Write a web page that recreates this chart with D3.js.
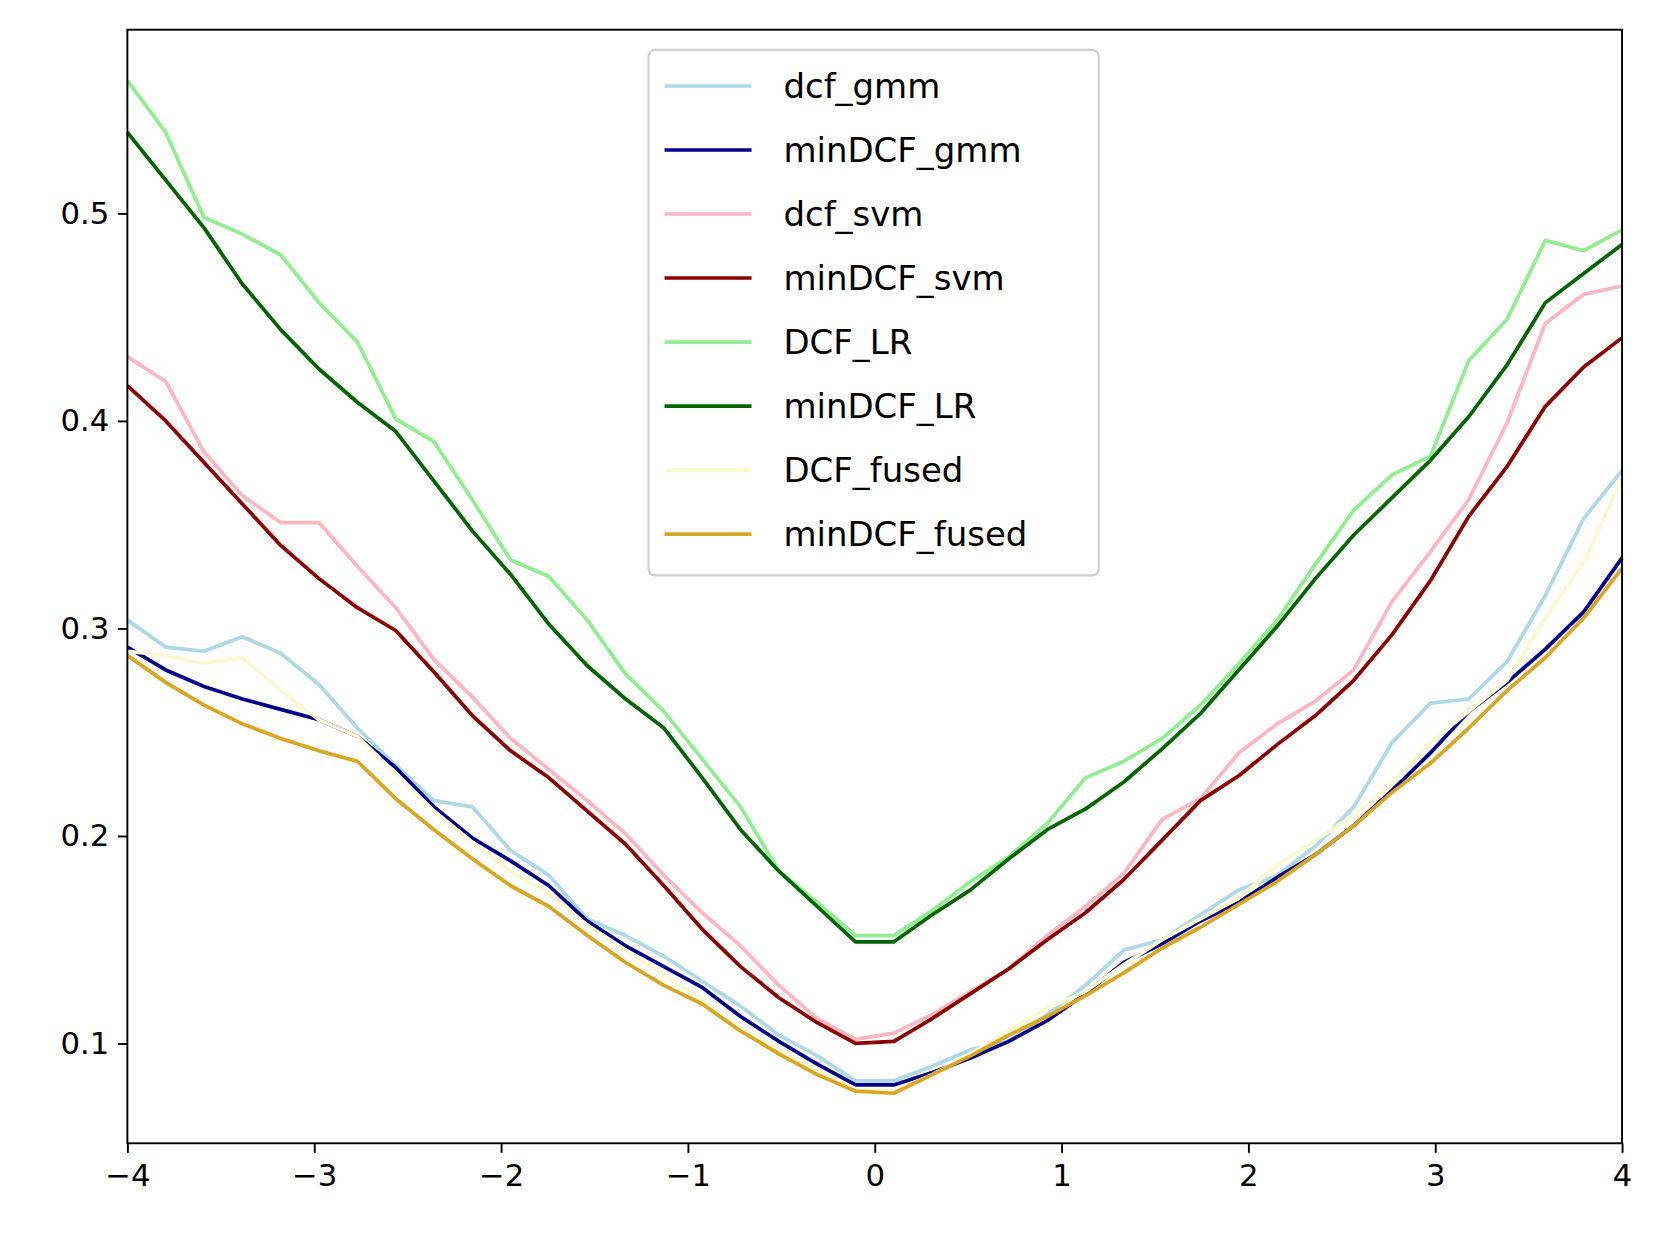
<!DOCTYPE html>
<html>
<head>
<meta charset="utf-8">
<script src="https://cdn.jsdelivr.net/npm/d3@7"></script>
<style>
  body { margin: 0; background: #fff; }
  text { font-family: "DejaVu Sans", sans-serif; }
</style>
</head>
<body>
<svg id="chart" width="1656" height="1239"></svg>
<script>
// 40 evenly spaced points from -4 to 4
var xValues = d3.range(40).map(i => -4 + i * 8 / 39);

var dcfGmm = [0.304,0.291,0.289,0.296,0.288,0.273,0.252,0.234,0.217,0.214,0.193,0.181,0.160,0.152,0.142,0.130,0.118,0.104,0.094,0.082,0.082,0.089,0.097,0.101,0.114,0.128,0.145,0.150,0.162,0.174,0.181,0.195,0.214,0.245,0.264,0.266,0.284,0.316,0.353,0.376];
var minDcfGmm = [0.291,0.280,0.272,0.266,0.261,0.256,0.248,0.233,0.214,0.199,0.188,0.176,0.159,0.147,0.137,0.127,0.113,0.101,0.090,0.080,0.080,0.086,0.093,0.101,0.111,0.124,0.139,0.148,0.159,0.168,0.180,0.191,0.205,0.222,0.240,0.260,0.274,0.290,0.308,0.334];
var dcfSvm = [0.431,0.419,0.385,0.364,0.351,0.351,0.330,0.310,0.285,0.267,0.247,0.232,0.217,0.201,0.181,0.163,0.147,0.128,0.112,0.102,0.105,0.114,0.125,0.136,0.152,0.166,0.182,0.208,0.218,0.240,0.254,0.265,0.280,0.313,0.337,0.362,0.399,0.447,0.461,0.465];
var minDcfSvm = [0.417,0.400,0.380,0.360,0.340,0.324,0.310,0.299,0.279,0.258,0.241,0.228,0.212,0.196,0.176,0.155,0.137,0.122,0.110,0.100,0.101,0.112,0.124,0.136,0.150,0.163,0.179,0.198,0.217,0.229,0.244,0.258,0.275,0.297,0.323,0.354,0.378,0.407,0.426,0.440];
var dcfLR = [0.564,0.539,0.498,0.490,0.480,0.457,0.438,0.401,0.390,0.362,0.333,0.325,0.304,0.278,0.260,0.237,0.214,0.183,0.168,0.152,0.152,0.164,0.178,0.190,0.206,0.228,0.236,0.247,0.263,0.283,0.304,0.331,0.357,0.374,0.383,0.429,0.449,0.487,0.482,0.492];
var minDcfLR = [0.539,0.516,0.493,0.466,0.444,0.425,0.409,0.395,0.371,0.347,0.326,0.302,0.282,0.266,0.252,0.228,0.203,0.183,0.166,0.149,0.149,0.162,0.174,0.189,0.203,0.213,0.226,0.242,0.259,0.280,0.301,0.324,0.345,0.363,0.381,0.402,0.427,0.457,0.471,0.485];
var dcfFused = [0.289,0.287,0.283,0.286,0.270,0.256,0.248,0.230,0.212,0.197,0.183,0.172,0.157,0.145,0.133,0.121,0.107,0.097,0.087,0.078,0.077,0.085,0.095,0.106,0.117,0.125,0.138,0.150,0.160,0.170,0.186,0.198,0.210,0.225,0.245,0.260,0.275,0.305,0.332,0.372];
var minDcfFused = [0.287,0.274,0.263,0.254,0.247,0.241,0.236,0.218,0.203,0.189,0.176,0.166,0.152,0.139,0.128,0.119,0.106,0.095,0.085,0.077,0.076,0.085,0.094,0.104,0.113,0.123,0.134,0.146,0.156,0.167,0.178,0.191,0.205,0.221,0.235,0.252,0.270,0.286,0.305,0.329];

var seriesNames = ["dcf_gmm","minDCF_gmm","dcf_svm","minDCF_svm","DCF_LR","minDCF_LR","DCF_fused","minDCF_fused"];
var seriesValues = [dcfGmm, minDcfGmm, dcfSvm, minDcfSvm, dcfLR, minDcfLR, dcfFused, minDcfFused];
var seriesColors = ["lightblue","darkblue","lightpink","darkred","lightgreen","darkgreen","lightgoldenrodyellow","goldenrod"];

var xTicks = [-4,-3,-2,-1,0,1,2,3,4];
var yTicks = [0.1,0.2,0.3,0.4,0.5];

var k0 = 1656 / 1560;
var svg = d3.select("#chart").append("g").attr("transform", `scale(${k0})`);
var mLeft = 120, mRight = 1528, mTop = 28, mBottom = 1077;

var x = d3.scaleLinear().domain([-4, 4]).range([mLeft, mRight]);
var y = d3.scaleLinear().domain([0.0519, 0.5885]).range([mBottom, mTop]);

var line = d3.line().x((d, i) => x(xValues[i])).y(d => y(d));

seriesValues.forEach((vals, k) => {
  svg.append("path")
    .datum(vals)
    .attr("d", line)
    .attr("fill", "none")
    .attr("stroke", seriesColors[k])
    .attr("stroke-width", 3.5)
    .attr("stroke-linejoin", "round");
});

// frame
svg.append("rect")
  .attr("x", mLeft).attr("y", mTop)
  .attr("width", mRight - mLeft).attr("height", mBottom - mTop)
  .attr("fill", "none").attr("stroke", "#000").attr("stroke-width", 1.8);

var minus = s => s.replace("-", "\u2212");

var xAxis = svg.append("g").attr("transform", `translate(0,${mBottom})`)
  .call(d3.axisBottom(x).tickValues(xTicks).tickSize(9).tickPadding(8).tickFormat(d => minus(d3.format("d")(d))));
var yAxis = svg.append("g").attr("transform", `translate(${mLeft},0)`)
  .call(d3.axisLeft(y).tickValues(yTicks).tickSize(9).tickPadding(8).tickFormat(d3.format(".1f")));

[xAxis, yAxis].forEach(a => {
  a.select(".domain").remove();
  a.selectAll("line").attr("stroke-width", 1.8);
  a.selectAll("text").attr("font-size", 29).attr("fill", "#000");
});
xAxis.selectAll("text").attr("dy", "0.8em");

// legend
var legend = svg.append("g");
legend.append("rect")
  .attr("x", 611).attr("y", 47).attr("width", 424).attr("height", 495)
  .attr("rx", 6).attr("fill", "#fff").attr("fill-opacity", 0.8)
  .attr("stroke", "#d0d0d0").attr("stroke-width", 2);

seriesNames.forEach((name, k) => {
  var ly = 81 + k * 60.3;
  legend.append("line")
    .attr("x1", 626).attr("x2", 708).attr("y1", ly).attr("y2", ly)
    .attr("stroke", seriesColors[k]).attr("stroke-width", 3.5);
  legend.append("text")
    .attr("x", 738).attr("y", ly).attr("dy", "0.35em")
    .attr("font-size", 32).attr("fill", "#000")
    .text(name);
});
</script>
</body>
</html>
